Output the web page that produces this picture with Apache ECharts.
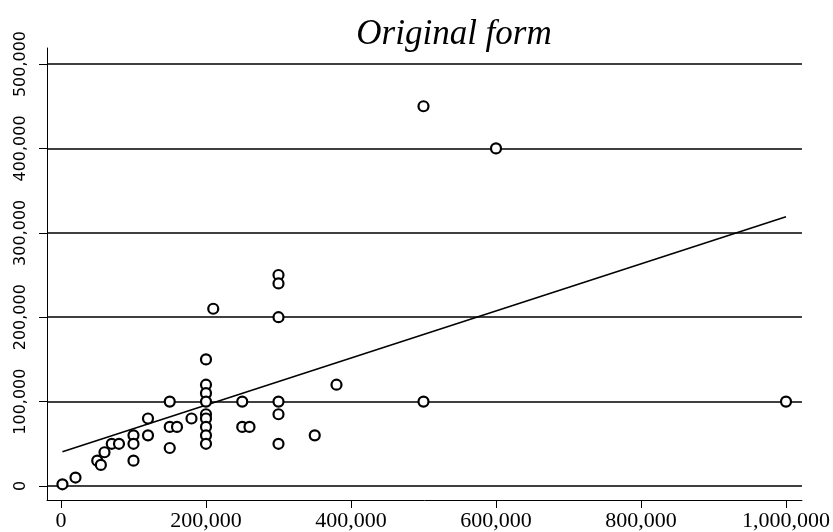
<!DOCTYPE html>
<html>
<head>
<meta charset="utf-8">
<script src="https://cdn.jsdelivr.net/npm/echarts@6/dist/echarts.min.js"></script>
<style>html,body{margin:0;padding:0;background:#fff}#c{width:833px;height:532px}</style>
</head>
<body>
<div id="c"></div>
<script>
var titleText = "Original form";
var pointsX = [2000, 20000, 50000, 55000, 60000, 70000, 80000, 100000, 100000, 100000,
  120000, 120000, 150000, 150000, 160000, 150000, 180000,
  200000, 200000, 200000, 200000, 200000, 200000, 200000, 200000, 200000,
  210000, 250000, 250000, 260000,
  300000, 300000, 300000, 300000, 300000, 300000,
  350000, 380000, 500000, 500000, 600000, 1000000];
var pointsY = [2000, 10000, 30000, 25000, 40000, 50000, 50000, 60000, 50000, 30000,
  80000, 60000, 100000, 70000, 70000, 45000, 80000,
  150000, 120000, 110000, 100000, 85000, 80000, 70000, 60000, 50000,
  210000, 100000, 70000, 70000,
  250000, 240000, 200000, 100000, 85000, 50000,
  60000, 120000, 450000, 100000, 400000, 100000];
var fitX = [2000, 1000000];
var fitY = [40600, 319000];
var xTicks = [0, 200000, 400000, 600000, 800000, 1000000];
var yTicks = [0, 100000, 200000, 300000, 400000, 500000];

var fmt = function (v) { return Number(v).toLocaleString('en-US'); };
var chart = echarts.init(document.getElementById('c'), null, {renderer: 'canvas'});
var scatterData = pointsX.map(function (x, i) { return [x, pointsY[i]]; });
var fitData = fitX.map(function (x, i) { return [x, fitY[i]]; });
chart.setOption({
  animation: false,
  backgroundColor: '#fff',
  title: {
    text: titleText, left: 449, top: 12, textAlign: 'center',
    textStyle: {fontFamily: 'Liberation Serif', fontStyle: 'italic', fontWeight: 'normal', fontSize: 35, color: '#000'}
  },
  grid: {left: 47, right: 30, top: 48, bottom: 32},
  xAxis: {
    type: 'value', min: -19300, max: 1022000,
    axisLine: {show: true, onZero: false, lineStyle: {color: '#000', width: 1}},
    axisTick: {show: true, length: 8, lineStyle: {color: '#000'}, customValues: xTicks},
    axisLabel: {customValues: xTicks, formatter: fmt, margin: 10, color: '#000', fontFamily: 'Liberation Serif', fontSize: 22},
    splitLine: {show: false}
  },
  yAxis: {
    type: 'value', min: -16600, max: 519000,
    axisLine: {show: true, onZero: false, lineStyle: {color: '#000', width: 1}},
    axisTick: {show: true, length: 8, lineStyle: {color: '#000'}, customValues: yTicks},
    axisLabel: {customValues: yTicks, formatter: fmt, rotate: 90, margin: 18, color: '#000', fontFamily: 'DejaVu Sans', fontSize: 16},
    splitLine: {show: true, lineStyle: {color: '#000', width: 1.6}}
  },
  series: [
    {type: 'line', data: fitData, showSymbol: false, symbol: 'none', lineStyle: {color: '#000', width: 1.5}, z: 2, silent: true},
    {type: 'scatter', data: scatterData, symbol: 'circle', symbolSize: 10,
     itemStyle: {color: '#fff', borderColor: '#000', borderWidth: 2.2, opacity: 1}, z: 3}
  ]
});
</script>
</body>
</html>
